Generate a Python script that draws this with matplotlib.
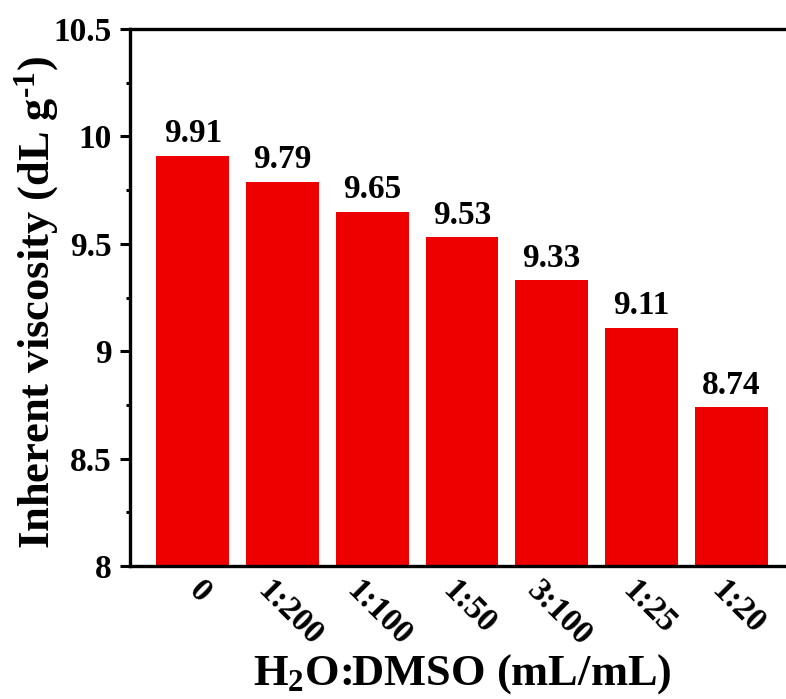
import matplotlib
matplotlib.use("Agg")
import matplotlib.pyplot as plt
from matplotlib.ticker import MultipleLocator
from matplotlib.transforms import ScaledTranslation

plt.rcParams['font.family'] = ['Liberation Serif', 'DejaVu Serif']
plt.rcParams['font.weight'] = 'bold'
plt.rcParams['mathtext.fontset'] = 'custom'
plt.rcParams['mathtext.rm'] = 'Liberation Serif:bold'
plt.rcParams['mathtext.bf'] = 'Liberation Serif:bold'
plt.rcParams['mathtext.it'] = 'Liberation Serif:bold:italic'
plt.rcParams['mathtext.default'] = 'rm'

ratios = ['0', '1:200', '1:100', '1:50', '3:100', '1:25', '1:20']
viscosity = [9.91, 9.79, 9.65, 9.53, 9.33, 9.11, 8.74]
y_ticks = [8, 8.5, 9, 9.5, 10, 10.5]
y_tick_labels = ['8', '8.5', '9', '9.5', '10', '10.5']

W, H = 786, 699
fig = plt.figure(figsize=(W / 100, H / 100), dpi=100)
ax = fig.add_axes([130 / W, (H - 566) / H, (794 - 130) / W, (566 - 29) / H])

x = list(range(len(ratios)))
ax.bar(x, viscosity, width=0.81, color='#ee0000', zorder=2)
for xi, v in zip(x, viscosity):
    ax.text(xi, v + 0.03, f'{v:.2f}', ha='center', va='bottom',
            fontsize=24, fontweight='bold')

ax.set_xlim(-0.7, 6.7)
ax.set_ylim(8, 10.5)
ax.set_yticks(y_ticks)
ax.set_yticklabels(y_tick_labels)
ax.yaxis.set_minor_locator(MultipleLocator(0.25))
ax.set_xticks(x)

ax.tick_params(axis='y', which='major', direction='out', length=7, width=2.2,
               labelsize=24, pad=6)
ax.tick_params(axis='y', which='minor', direction='out', length=3, width=2.2)
ax.tick_params(axis='x', which='major', length=0, pad=6)

ax.set_xticklabels(ratios, rotation=-45, ha='center', fontsize=24)
shift = ScaledTranslation(7 / 100, -1 / 100, fig.dpi_scale_trans)
for lbl in ax.get_xticklabels():
    lbl.set_transform(lbl.get_transform() + shift)

for side in ['left', 'bottom', 'top', 'right']:
    ax.spines[side].set_linewidth(2.4)

ax.set_xlabel('H$_2$O:DMSO (mL/mL)', fontsize=32, fontweight='bold', labelpad=0)
ax.set_ylabel(r'Inherent viscosity (dL g$^{\text{-1}}$)', fontsize=32,
              fontweight='bold', labelpad=-5)
ax.yaxis.label.set_y(0.49)

fig.savefig('out.png', dpi=100)
